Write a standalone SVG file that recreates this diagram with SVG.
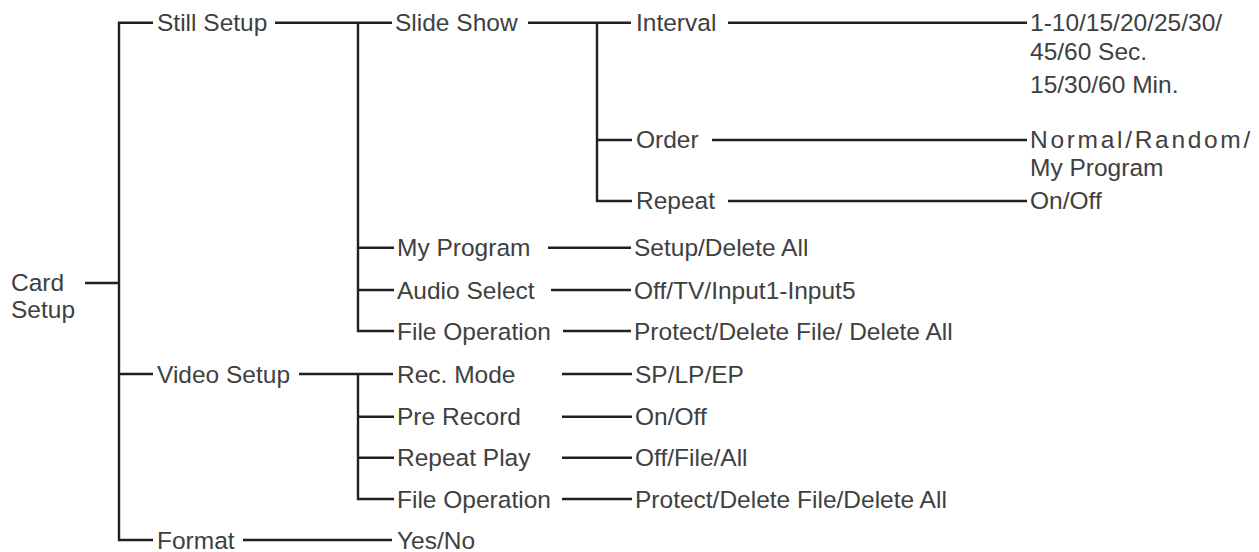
<svg xmlns="http://www.w3.org/2000/svg" width="1259" height="552" viewBox="0 0 1259 552">
<style>
text{font-family:"Liberation Sans",Arial,sans-serif;font-size:24.5px;fill:#404040}
.c line,.c path{stroke:#231f20;stroke-width:2.4;fill:none}
.wide{letter-spacing:2.7px}
</style>
<rect width="1259" height="552" fill="#ffffff"/>
<g class="c" id="connectors">
<line x1="85" y1="283" x2="119" y2="283"/>
<path d="M153 22.7H119V540H153"/>
<line x1="119" y1="374" x2="153" y2="374"/>
<line x1="275" y1="22.7" x2="392" y2="22.7"/>
<path d="M358 22.7V331H394"/>
<line x1="358" y1="247.7" x2="394" y2="247.7"/>
<line x1="358" y1="290" x2="394" y2="290"/>
<line x1="528" y1="22.7" x2="631" y2="22.7"/>
<path d="M597 22.7V201H632"/>
<line x1="597" y1="140" x2="632" y2="140"/>
<line x1="728" y1="22.7" x2="1027" y2="22.7"/>
<line x1="712" y1="140" x2="1027" y2="140"/>
<line x1="728" y1="201" x2="1027" y2="201"/>
<line x1="548" y1="247.7" x2="631" y2="247.7"/>
<line x1="551" y1="290" x2="631" y2="290"/>
<line x1="563" y1="331" x2="631" y2="331"/>
<line x1="299" y1="374" x2="393" y2="374"/>
<path d="M358 374V499H394"/>
<line x1="358" y1="416.7" x2="394" y2="416.7"/>
<line x1="358" y1="457.7" x2="394" y2="457.7"/>
<line x1="562" y1="374" x2="632" y2="374"/>
<line x1="562" y1="416.7" x2="632" y2="416.7"/>
<line x1="562" y1="457.7" x2="632" y2="457.7"/>
<line x1="562" y1="499" x2="632" y2="499"/>
<line x1="243" y1="540" x2="392" y2="540"/>
</g>
<g id="card-setup"><text x="11" y="290.5">Card</text><text x="11" y="318">Setup</text></g>
<g id="still-setup"><text x="157" y="31">Still Setup</text></g>
<g id="slide-show"><text x="395" y="31">Slide Show</text></g>
<g id="interval"><text x="636" y="31">Interval</text></g>
<g id="interval-values"><text x="1030" y="31">1-10/15/20/25/30/</text><text x="1030" y="59.5">45/60 Sec.</text><text x="1030" y="93">15/30/60 Min.</text></g>
<g id="order"><text x="636" y="148.3">Order</text></g>
<g id="order-values"><text x="1030" y="148" class="wide">Normal/Random/</text><text x="1030" y="175.5">My Program</text></g>
<g id="repeat"><text x="636" y="209.3">Repeat</text></g>
<g id="repeat-values"><text x="1030" y="209.3">On/Off</text></g>
<g id="my-program"><text x="397" y="256.3">My Program</text></g>
<g id="my-program-values"><text x="634" y="256.3">Setup/Delete All</text></g>
<g id="audio-select"><text x="397" y="298.5">Audio Select</text></g>
<g id="audio-select-values"><text x="634" y="298.5">Off/TV/Input1-Input5</text></g>
<g id="still-file-operation"><text x="397" y="339.5">File Operation</text></g>
<g id="still-file-operation-values"><text x="634" y="339.5">Protect/Delete File/ Delete All</text></g>
<g id="video-setup"><text x="157" y="382.5">Video Setup</text></g>
<g id="rec-mode"><text x="397" y="382.5">Rec. Mode</text></g>
<g id="rec-mode-values"><text x="635" y="382.5">SP/LP/EP</text></g>
<g id="pre-record"><text x="397" y="425.2">Pre Record</text></g>
<g id="pre-record-values"><text x="635" y="425.2">On/Off</text></g>
<g id="repeat-play"><text x="397" y="466.2">Repeat Play</text></g>
<g id="repeat-play-values"><text x="635" y="466.2">Off/File/All</text></g>
<g id="video-file-operation"><text x="397" y="507.5">File Operation</text></g>
<g id="video-file-operation-values"><text x="635" y="507.5">Protect/Delete File/Delete All</text></g>
<g id="format"><text x="157" y="548.5">Format</text></g>
<g id="format-values"><text x="397" y="548.5">Yes/No</text></g>
</svg>
